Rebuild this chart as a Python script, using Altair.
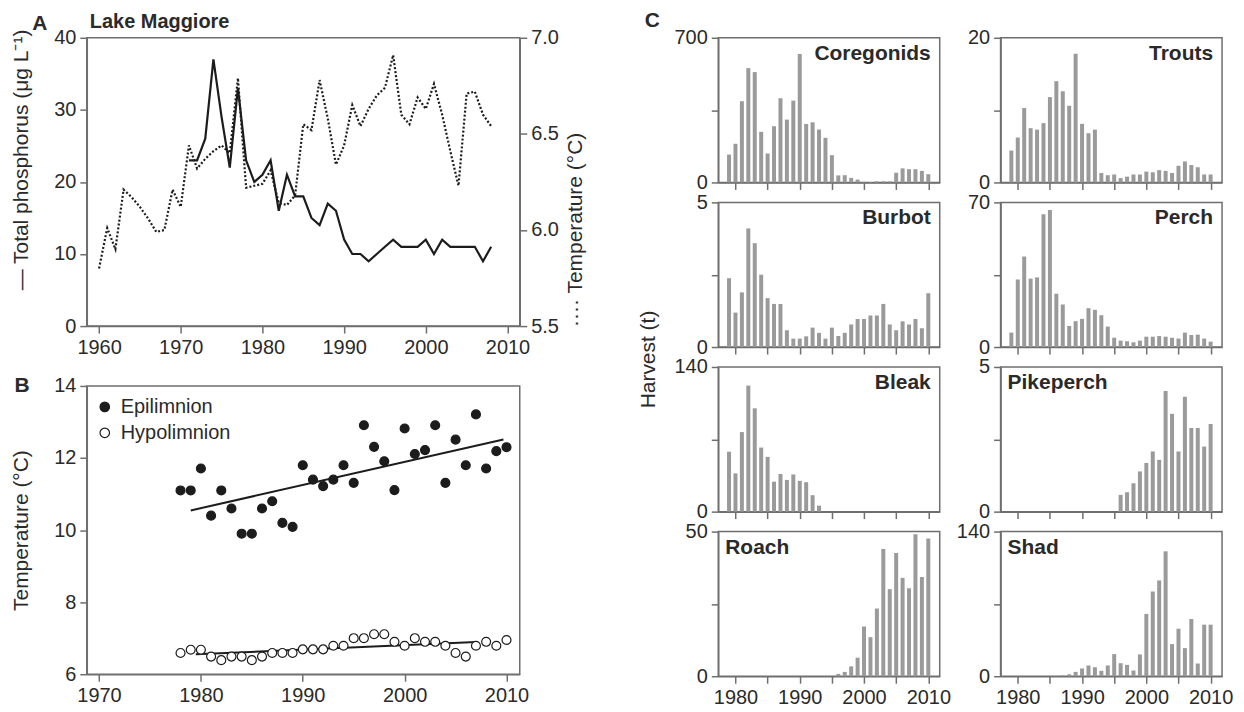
import altair as alt
import pandas as pd

FONT = "Liberation Sans"
TXT = "#2a2a2a"
AX = "#6e6e6e"
LINE = "#1c1c1c"
BAR = "#9a9a9a"

# ---------------- Panel A data ----------------
years_temp_a = list(range(1960, 2009))
temp_a = [5.80, 6.01, 5.90, 6.21, 6.17, 6.12, 6.06, 5.99, 6.00, 6.21,
          6.12, 6.44, 6.32, 6.37, 6.41, 6.44, 6.40, 6.79, 6.22, 6.23,
          6.24, 6.31, 6.14, 6.13, 6.18, 6.55, 6.52, 6.78, 6.58, 6.34,
          6.44, 6.65, 6.54, 6.63, 6.70, 6.74, 6.91, 6.60, 6.55, 6.69,
          6.63, 6.76, 6.60, 6.41, 6.23, 6.71, 6.72, 6.60, 6.54]
years_tp_a = list(range(1971, 2009))
tp_a = [23, 23, 26, 37, 29, 22, 33, 23, 20, 21,
        23, 16, 21, 18, 18, 15, 14, 17, 16, 12,
        10, 10, 9, 10, 11, 12, 11, 11, 11, 12,
        10, 12, 11, 11, 11, 11, 9, 11]

# ---------------- Panel B data ----------------
years_b = list(range(1978, 2011))
epi_b = [11.10, 11.10, 11.71, 10.40, 11.10, 10.60, 9.90, 9.90, 10.60, 10.80,
         10.20, 10.09, 11.80, 11.40, 11.22, 11.40, 11.80, 11.31, 12.91, 12.31,
         11.91, 11.11, 12.82, 12.11, 12.22, 12.91, 11.31, 12.51, 11.80, 13.21,
         11.71, 12.19, 12.30]
hypo_b = [6.59, 6.68, 6.68, 6.49, 6.39, 6.49, 6.49, 6.39, 6.49, 6.59,
          6.59, 6.59, 6.69, 6.69, 6.69, 6.79, 6.79, 7.00, 7.00, 7.11,
          7.11, 6.90, 6.79, 7.00, 6.90, 6.90, 6.79, 6.59, 6.49, 6.79,
          6.90, 6.79, 6.95]

# ---------------- Panel C data ----------------
years_c = list(range(1979, 2011))
coregonids = [135, 187, 393, 553, 534, 245, 140, 272, 407, 304, 396, 621, 283, 291, 256, 216,
              132, 34, 35, 22, 14, 3, 2, 5, 5, 5, 47, 68, 64, 64, 56, 40]
trouts = [4.4, 6.2, 10.3, 7.5, 7.3, 8.2, 11.8, 14.0, 12.6, 10.6, 17.8, 8.1, 6.8, 7.3, 1.3, 1.0,
          1.1, 0.6, 0.8, 1.1, 1.1, 1.5, 1.4, 1.7, 1.6, 1.3, 2.3, 2.9, 2.4, 2.1, 1.1, 1.1]
burbot = [2.38, 1.19, 1.89, 4.10, 3.59, 2.50, 1.69, 1.49, 1.49, 0.58, 0.29, 0.29, 0.37, 0.67, 0.49, 0.29,
          0.67, 0.38, 0.49, 0.78, 0.97, 0.97, 1.09, 1.09, 1.49, 0.78, 0.58, 0.89, 0.78, 0.97, 0.65, 1.86]
perch = [7.0, 32.7, 43.8, 33.1, 33.7, 64.3, 66.3, 25.8, 20.6, 10.2, 12.5, 13.6, 18.8, 18.0, 15.4, 9.9,
         4.5, 3.1, 2.8, 2.3, 3.1, 5.0, 5.0, 5.3, 5.0, 4.5, 4.1, 7.0, 5.8, 6.0, 4.1, 2.6]
bleak = [58, 37, 77, 122, 100, 62, 53, 29, 36.5, 30.7, 36, 29.8, 28.5, 15.9, 5.8, 0,
         0, 0, 0, 0, 0, 0, 0, 0, 0, 0, 0, 0, 0, 0, 0, 0]
pikeperch = [0, 0, 0, 0, 0, 0, 0, 0, 0, 0, 0, 0, 0, 0, 0, 0,
             0, 0.58, 0.67, 0.98, 1.39, 1.68, 2.08, 1.79, 4.17, 3.38, 2.08, 3.97, 2.89, 2.89, 2.25, 3.03]
roach = [0, 0, 0, 0, 0, 0, 0, 0, 0, 0, 0, 0, 0, 0, 0, 0,
         0, 0.8, 1.5, 3.4, 6.4, 17.2, 13.5, 23.4, 44.0, 30.1, 42.6, 34.0, 30.4, 49.1, 34.3, 47.6]
shad = [0, 0, 0, 0, 0, 0, 0, 0.3, 0.6, 1.9, 4.2, 7.5, 10.4, 8.7, 5.2, 10.4,
        21.4, 12.6, 11.0, 5.5, 21.1, 60.3, 82.0, 92.7, 120.9, 31.1, 46.0, 27.2, 55.4, 12.3, 49.9, 49.9]

species = ["Coregonids", "Trouts", "Burbot", "Perch", "Bleak", "Pikeperch", "Roach", "Shad"]
series_c = [coregonids, trouts, burbot, perch, bleak, pikeperch, roach, shad]
ymax_c = [700, 20, 5, 70, 140, 5, 50, 140]
name_right = [True, True, True, True, True, False, False, False]


def label(text, x, y, align="center", size=21):
    return alt.Chart(pd.DataFrame({"t": [text]})).mark_text(
        fontSize=size, fontWeight="bold", font=FONT, color=TXT, align=align, baseline="middle"
    ).encode(text="t:N", x=alt.value(x), y=alt.value(y))


# ---------------- Panel A ----------------
xA = alt.X("year:Q", scale=alt.Scale(domain=[1958.5, 2011.5], nice=False, zero=False),
           axis=alt.Axis(values=list(range(1960, 2011, 10)), format="d", title=None))
tp_line = alt.Chart(pd.DataFrame({"year": years_tp_a, "tp": tp_a})).mark_line(
    color=LINE, strokeWidth=2.2).encode(
    x=xA,
    y=alt.Y("tp:Q", scale=alt.Scale(domain=[0, 40], nice=False),
            axis=alt.Axis(orient="left", values=[0, 10, 20, 30, 40],
                          title="— Total phosphorus (μg L⁻¹)", titleY=122, titlePadding=22)))
temp_line = alt.Chart(pd.DataFrame({"year": years_temp_a, "temp": temp_a})).mark_line(
    color=LINE, strokeWidth=2.2, strokeDash=[2, 2]).encode(
    x=xA,
    y=alt.Y("temp:Q", scale=alt.Scale(domain=[5.5, 7.0], nice=False, zero=False),
            axis=alt.Axis(orient="right", values=[5.5, 6.0, 6.5, 7.0], format=".1f",
                          title="···· Temperature (°C)", titleAngle=270, titleBaseline="top",
                          titleAlign="center", titleY=192, titlePadding=6)))
panel_a = alt.layer(
    temp_line, tp_line,
    label("A", -47, -14),
    label("Lake Maggiore", 3, -16, align="left", size=20),
).resolve_scale(y="independent").properties(width=434, height=289)

# ---------------- Panel B ----------------
df_b = pd.concat([
    pd.DataFrame({"year": years_b, "temp": epi_b, "layer": "Epilimnion"}),
    pd.DataFrame({"year": years_b, "temp": hypo_b, "layer": "Hypolimnion"}),
])
xB = alt.X("year:Q", scale=alt.Scale(domain=[1968.8, 2011.3], nice=False, zero=False),
           axis=alt.Axis(values=list(range(1970, 2011, 10)), format="d", title=None))
yB = alt.Y("temp:Q", scale=alt.Scale(domain=[6, 14], nice=False, zero=False),
           axis=alt.Axis(values=[6, 8, 10, 12, 14], title="Temperature (°C)", titlePadding=22))
pts_b = alt.Chart(df_b).mark_point(filled=False, shape="circle", size=80, stroke=LINE,
                                   strokeWidth=1.2, opacity=1).encode(
    x=xB, y=yB,
    fill=alt.Fill("layer:N", scale=alt.Scale(domain=["Epilimnion", "Hypolimnion"], range=[LINE, "white"]),
                  legend=alt.Legend(title=None, orient="none", legendX=8, legendY=11, labelFontSize=20,
                                    labelFont=FONT, labelColor=TXT, symbolSize=90, symbolType="circle",
                                    symbolStrokeColor=LINE, symbolStrokeWidth=1.2, rowPadding=6,
                                    labelOffset=6, padding=0)))
reg_epi = alt.Chart(df_b).transform_filter(alt.datum.layer == "Epilimnion").transform_regression(
    "year", "temp", extent=[1979, 2009.7]).mark_line(color=LINE, strokeWidth=2).encode(x=xB, y=yB)
reg_hypo = alt.Chart(df_b).transform_filter(alt.datum.layer == "Hypolimnion").transform_regression(
    "year", "temp", extent=[1979.5, 2007]).mark_line(color=LINE, strokeWidth=2).encode(x=xB, y=yB)
panel_b = alt.layer(reg_epi, reg_hypo, pts_b, label("B", -65, 0)).properties(width=434, height=289)

left = alt.vconcat(panel_a, panel_b, spacing=60, bounds="flush").resolve_legend(fill="independent")

# ---------------- Panel C ----------------
panels = []
for i, (name, vals, ymax, right) in enumerate(zip(species, series_c, ymax_c, name_right)):
    df = pd.DataFrame({"year": years_c, "v": vals})
    bottom = i >= 6
    xax = alt.Axis(values=list(range(1980, 2011, 5)), format="d", title=None,
                   labels=bottom, labelExpr="datum.value % 10 == 0 ? datum.label : ''")
    ykw = dict(values=[0, ymax / 2, ymax], title=None,
               labelExpr=f"datum.value == {ymax / 2} ? '' : datum.label")
    if i == 2:
        ykw.update(title="Harvest (t)", titleY=157, titleX=-60, titleAlign="center", titleAngle=270)
    bars = alt.Chart(df).mark_bar(color=BAR, size=4).encode(
        x=alt.X("year:Q", scale=alt.Scale(domain=[1978.1, 2011], nice=False, zero=False), axis=xax),
        y=alt.Y("v:Q", scale=alt.Scale(domain=[0, ymax], nice=False), axis=alt.Axis(**ykw)))
    layers = [bars, label(name, 213 if right else 7, 16, align="right" if right else "left")]
    if i == 0:
        layers.append(label("C", -66, -17))
    panels.append(alt.layer(*layers).properties(width=222, height=145))

right = alt.concat(*panels, columns=2, spacing={"row": 20, "column": 61}, bounds="flush")

chart = alt.hconcat(left, right, spacing=50).properties(
    padding={"left": 2, "top": 0, "right": 2, "bottom": 2}
).configure_view(stroke=AX, strokeWidth=1.5).configure_axis(
    domainColor=AX, domainWidth=1.5, tickColor=AX, tickWidth=1.5, tickSize=7,
    labelColor=TXT, labelFont=FONT, labelFontSize=20, labelPadding=4,
    titleColor=TXT, titleFont=FONT, titleFontSize=21, titleFontWeight="normal", grid=False
).configure_concat(spacing=20)

chart.save("out.html", embed_options={"renderer": "svg", "actions": False})
